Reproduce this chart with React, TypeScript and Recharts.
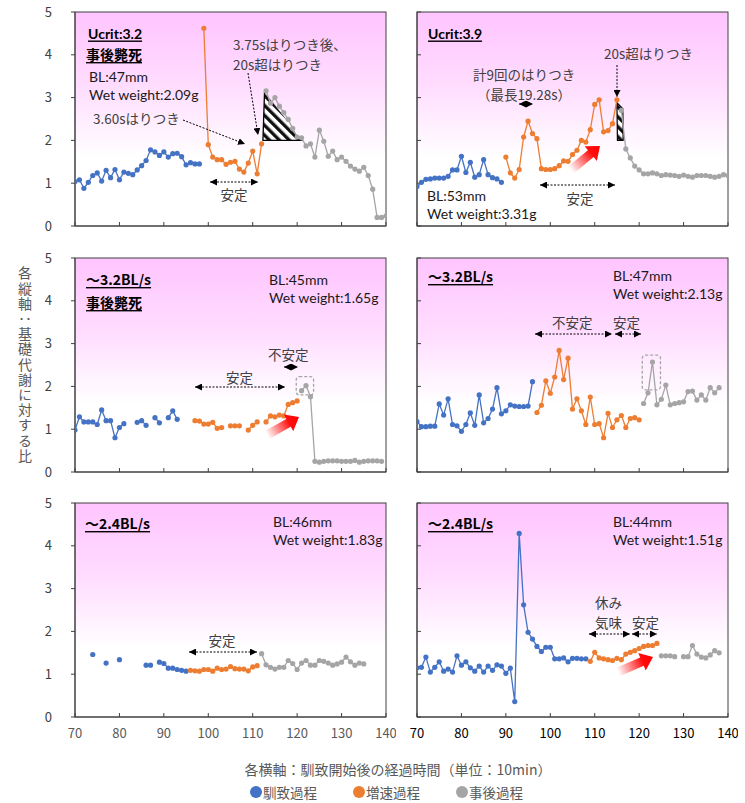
import React from 'react'
import { LineChart, Line, XAxis, YAxis, ReferenceArea } from 'recharts'

const BLUE = '#4472C4'
const ORANGE = '#ED7D31'
const GRAY = '#A5A5A5'
const FONT = '"Noto Sans CJK JP", "Noto Sans", sans-serif'
const LATIN = 'Lato, "Noto Sans CJK JP", sans-serif'

const xTicks = [70, 80, 90, 100, 110, 120, 130, 140]
const yTicks = [0, 1, 2, 3, 4, 5]

// 各パネルの値（開始時刻 + 10分ごとの値、null は欠測）
const ucrit32BlueFrom = 70
const ucrit32Blue = [1.04, 1.08, 0.88, 1.02, 1.18, 1.24, 1.05, 1.3, 1.13, 1.32, 1.08, 1.26, 1.23, 1.2, 1.31, 1.41, 1.53, 1.78, 1.73, 1.65, 1.73, 1.61, 1.69, 1.7, 1.62, 1.43, 1.48, 1.45, 1.45]
const ucrit32OrangeFrom = 99
const ucrit32Orange = [4.62, 1.9, 1.61, 1.55, 1.55, 1.44, 1.49, 1.51, 1.33, 1.26, 1.47, 1.75, 1.22, 1.92]
const ucrit32GrayFrom = 113
const ucrit32Gray = [3.16, 2.87, 3.0, 2.8, 2.65, 2.49, 2.28, 2.08, 2.06, 1.87, 1.92, 1.61, 2.24, 1.98, 1.63, 1.75, 1.55, 1.61, 1.51, 1.4, 1.33, 1.28, 1.37, 1.18, 0.86, 0.2, 0.2, 0.24]

const ucrit39BlueFrom = 70
const ucrit39Blue = [0.92, 1.02, 1.09, 1.1, 1.12, 1.12, 1.12, 1.16, 1.31, 1.31, 1.63, 1.25, 1.49, 1.14, 1.2, 1.55, 1.2, 1.13, 1.1, 1.02]
const ucrit39OrangeFrom = 90
const ucrit39Orange = [1.61, 1.24, 1.12, 1.32, 2.08, 2.45, 2.16, 2.04, 1.34, 1.32, 1.32, 1.34, 1.41, 1.52, 1.51, 1.67, 1.77, 2.0, 1.96, 2.25, 2.84, 2.95, 2.2, 2.23, 2.39, 2.95]
const ucrit39GrayFrom = 116
const ucrit39Gray = [2.7, 1.8, 1.59, 1.4, 1.31, 1.22, 1.22, 1.24, 1.22, 1.18, 1.2, 1.19, 1.18, 1.16, 1.19, 1.16, 1.14, 1.18, 1.18, 1.18, 1.16, 1.14, 1.16, 1.2, 1.18]

const bl32aBlueFrom = 70
const bl32aBlue = [0.98, 1.29, 1.17, 1.17, 1.17, 1.11, 1.45, 1.2, 1.2, 0.8, 1.04, 1.13, null, null, 1.16, 1.2, 1.09, null, 1.27, 1.15, null, 1.27, 1.43, 1.23]
const bl32aOrangeFrom = 97
const bl32aOrange = [1.2, 1.19, 1.12, 1.12, 1.16, 1.02, 1.04, null, 1.08, 1.08, 1.08, null, 0.98, 1.09, 1.17, null, 1.17, 1.31, 1.29, 1.33, 1.31, 1.58, 1.62, 1.66]
const bl32aGrayFrom = 121
const bl32aGray = [1.9, 2.02, 1.76, 0.25, 0.23, 0.25, 0.26, 0.26, 0.26, 0.25, 0.25, 0.25, 0.27, 0.23, 0.25, 0.26, 0.26, 0.26, 0.25]

const bl32bBlueFrom = 70
const bl32bBlue = [1.18, 1.06, 1.06, 1.07, 1.07, 1.59, 1.33, 1.71, 1.11, 1.08, 0.95, 1.11, 1.38, 1.09, 1.8, 1.15, 1.25, 1.47, 1.97, 1.36, 1.43, 1.57, 1.54, 1.53, 1.53, 1.54, 2.11]
const bl32bOrangeFrom = 97
const bl32bOrange = [1.39, 1.56, 2.13, 1.84, 2.22, 2.84, 2.16, 2.66, 1.47, 1.71, 1.43, 1.11, 1.75, 1.11, 1.13, 0.8, 1.37, 1.04, 1.22, 1.32, 1.04, 1.25, 1.27, 1.22]
const bl32bGrayFrom = 121
const bl32bGray = [1.6, 1.85, 2.57, 1.57, 1.7, 2.03, 1.57, 1.6, 1.62, 1.64, 1.88, 1.89, 1.68, 1.8, 1.68, 1.97, 1.85, 1.97]

const bl24aBlueFrom = 74
const bl24aBlue = [1.46, null, null, 1.26, null, null, 1.34, null, null, null, null, null, 1.21, 1.21, null, 1.28, 1.25, 1.14, 1.14, 1.11, 1.09, 1.07]
const bl24aOrangeFrom = 96
const bl24aOrange = [1.09, 1.08, 1.07, 1.11, 1.11, 1.07, 1.14, 1.11, 1.12, 1.18, 1.13, 1.12, 1.12, 1.08, 1.17, 1.2]
const bl24aGrayFrom = 112
const bl24aGray = [1.48, 1.22, 1.16, 1.12, 1.16, 1.16, 1.32, 1.25, 1.11, 1.26, 1.32, 1.21, 1.21, 1.32, 1.3, 1.26, 1.21, 1.24, 1.28, 1.4, 1.29, 1.21, 1.26, 1.24]

const bl24bBlueFrom = 70
const bl24bBlue = [1.15, 1.16, 1.4, 1.05, 1.16, 1.29, 1.07, 1.12, 1.05, 1.43, 1.21, 1.29, 1.15, 1.07, 1.19, 1.05, 1.19, 1.09, 1.22, 1.19, 1.02, 1.14, 0.36, 4.29, 2.62, 1.98, 1.82, 1.65, 1.53, 1.63, 1.63, 1.36, 1.36, 1.38, 1.29, 1.37, 1.37, 1.36, 1.36]
const bl24bOrangeFrom = 109
const bl24bOrange = [1.3, 1.51, 1.38, 1.36, 1.34, 1.32, 1.37, 1.34, 1.47, 1.51, 1.55, 1.6, 1.65, 1.67, 1.67, 1.72]
const bl24bGrayFrom = 125
const bl24bGray = [1.43, 1.43, 1.43, 1.41, null, 1.41, 1.41, 1.67, 1.47, 1.4, 1.38, 1.45, 1.55, 1.5]

const toPoints = (from: number, values: (number | null)[]) => values.map((v, i) => ({ t: from + i, v }))

// レイアウト
const PLOT_W = 311
const PLOT_H = 214
const AXIS_W = 45
const AXIS_H = 30
const PAD = 10
const COL_X = [75, 417]
const ROW_Y = [12, 258, 503]

const backgroundShape = (id: string) => (p: any) => (
  <g>
    <defs>
      <linearGradient id={`bg-${id}`} x1="0" y1="0" x2="0" y2="1">
        <stop offset="0%" stopColor="#FFC4FF" />
        <stop offset="35%" stopColor="#FFDDFF" />
        <stop offset="68%" stopColor="#FFFFFF" />
      </linearGradient>
    </defs>
    <rect x={p.x} y={p.y} width={p.width} height={p.height} fill={`url(#bg-${id})`} stroke="#404040" strokeWidth={1} />
  </g>
)

const hatchDefs = (id: string) => (
  <defs>
    <pattern id={id} patternUnits="userSpaceOnUse" width="7" height="7" patternTransform="rotate(-45)">
      <rect width="3.6" height="7" fill="#111" />
      <rect x="3.6" width="3.4" height="7" fill="#fff" />
    </pattern>
  </defs>
)

// 3.75sはりつき後の三角形
const hatchTriangle = (p: any) => {
  const { x, y, width: w, height: h } = p
  return (
    <g>
      {hatchDefs('hatch-a')}
      <polygon points={`${x},${y + h} ${x + w * 0.04},${y} ${x + w},${y + h}`} fill="url(#hatch-a)" />
      <polyline points={`${x + w * 0.04},${y} ${x},${y + h} ${x + w},${y + h}`} fill="none" stroke="#000" strokeWidth={1.3} />
    </g>
  )
}

// 20s超はりつきの細い帯
const hatchStrip = (p: any) => {
  const { x, y, width: w, height: h } = p
  const pts = `${x},${y} ${x + w * 0.08},${y + h} ${x + w},${y + h} ${x + w * 0.95},${y + h * 0.16}`
  return (
    <g>
      {hatchDefs('hatch-b')}
      <polygon points={pts} fill="url(#hatch-b)" stroke="#000" strokeWidth={1.2} />
    </g>
  )
}

const dashedBox = (p: any) => (
  <rect x={p.x} y={p.y} width={p.width} height={p.height} rx={3} fill="none" stroke={GRAY} strokeWidth={1.3} strokeDasharray="3 2" />
)

interface PanelProps {
  id: string
  col: number
  row: number
  blue: { t: number; v: number | null }[]
  orange: { t: number; v: number | null }[]
  gray: { t: number; v: number | null }[]
  children?: React.ReactNode
}

function Panel({ id, col, row, blue, orange, gray, children }: PanelProps) {
  const showY = col === 0
  const showX = row === 2
  const xColor = col === 0 ? '#595959' : '#000000'
  const series = [
    { key: 'blue', data: blue, color: BLUE },
    { key: 'orange', data: orange, color: ORANGE },
    { key: 'gray', data: gray, color: GRAY },
  ]
  return (
    <div style={{ position: 'absolute', left: COL_X[col] - AXIS_W, top: ROW_Y[row] - PAD }}>
      <LineChart
        width={AXIS_W + PLOT_W + PAD}
        height={PAD + PLOT_H + AXIS_H}
        margin={{ top: PAD, right: PAD, bottom: 0, left: 0 }}
      >
        <ReferenceArea x1={70} x2={140} y1={0} y2={5} ifOverflow="visible" shape={backgroundShape(id)} />
        {children}
        <XAxis
          type="number"
          dataKey="t"
          domain={[70, 140]}
          ticks={xTicks}
          interval={0}
          allowDataOverflow
          height={AXIS_H}
          tickSize={-4}
          tickMargin={16}
          axisLine={{ stroke: '#404040' }}
          tickLine={{ stroke: '#404040' }}
          tick={{ fill: xColor, fontSize: 13, fontFamily: FONT }}
          tickFormatter={(v: number) => (showX ? String(v) : '')}
        />
        <YAxis
          type="number"
          domain={[0, 5]}
          ticks={yTicks}
          interval={0}
          allowDataOverflow
          width={AXIS_W}
          tickSize={showY ? 4 : -4}
          tickMargin={19}
          axisLine={{ stroke: '#404040' }}
          tickLine={{ stroke: '#404040' }}
          tick={{ fill: '#404040', fontSize: 13, fontFamily: FONT }}
          tickFormatter={(v: number) => (showY ? String(v) : '')}
        />
        {series.map((s) => (
          <Line
            key={s.key}
            data={s.data}
            dataKey="v"
            type="linear"
            stroke={s.color}
            strokeWidth={1.3}
            dot={{ r: 2.6, fill: s.color, stroke: s.color, strokeWidth: 0 }}
            activeDot={false}
            connectNulls={false}
            isAnimationActive={false}
          />
        ))}
      </LineChart>
    </div>
  )
}

function RedArrow({ id, x1, y1, x2, y2 }: { id: string; x1: number; y1: number; x2: number; y2: number }) {
  const dx = x2 - x1
  const dy = y2 - y1
  const L = Math.hypot(dx, dy)
  const ux = dx / L
  const uy = dy / L
  const nx = -uy
  const ny = ux
  const bw = 4.5
  const hw = 9.5
  const hl = 12
  const p = (a: number, b: number) => `${x1 + ux * a + nx * b},${y1 + uy * a + ny * b}`
  const pts = [p(0, -bw), p(L - hl, -bw), p(L - hl, -hw), p(L, 0), p(L - hl, hw), p(L - hl, bw), p(0, bw)].join(' ')
  return (
    <g>
      <defs>
        <linearGradient id={id} gradientUnits="userSpaceOnUse" x1={x1} y1={y1} x2={x2} y2={y2}>
          <stop offset="0" stopColor="#FF0000" stopOpacity="0" />
          <stop offset="0.7" stopColor="#FF0000" stopOpacity="0.95" />
          <stop offset="1" stopColor="#FF0000" stopOpacity="1" />
        </linearGradient>
      </defs>
      <polygon points={pts} fill={`url(#${id})`} />
    </g>
  )
}

function DashArrow({ x1, y1, x2, y2, both = true }: { x1: number; y1: number; x2: number; y2: number; both?: boolean }) {
  return (
    <line
      x1={x1}
      y1={y1}
      x2={x2}
      y2={y2}
      stroke="#000"
      strokeWidth={1}
      strokeDasharray="2 1.5"
      markerEnd="url(#ah)"
      markerStart={both ? 'url(#ah)' : undefined}
    />
  )
}

function T({ x, y, children, bold = false, under = false, color = '#404040', anchor = 'start', size = 13.5, font = FONT }: any) {
  return (
    <text
      x={x}
      y={y}
      fontSize={size}
      fontFamily={font}
      fontWeight={bold ? 700 : 400}
      fill={color}
      textAnchor={anchor}
      dominantBaseline="central"
      textDecoration={under ? 'underline' : undefined}
    >
      {children}
    </text>
  )
}

// 個体情報（BL・湿重量）
function Info({ x, y, bl, ww }: { x: number; y: number; bl: string; ww: string }) {
  return (
    <>
      <T x={x} y={y} color="#1a1a1a" size={14} font={LATIN}>{bl}</T>
      <T x={x} y={y + 18} color="#1a1a1a" size={14} font={LATIN}>{ww}</T>
    </>
  )
}

function Annotations() {
  return (
    <svg width={745} height={803} style={{ position: 'absolute', left: 0, top: 0, pointerEvents: 'none' }}>
      <defs>
        <marker id="ah" viewBox="0 0 10 10" refX="10" refY="5" markerWidth="7" markerHeight="7" markerUnits="userSpaceOnUse" orient="auto-start-reverse">
          <path d="M0,0 L10,5 L0,10 z" fill="#000" />
        </marker>
      </defs>

      {/* Ucrit:3.2 */}
      <T x={88} y={33} bold under color="#000" size={14} font={LATIN}>Ucrit:3.2</T>
      <T x={86} y={54} bold under color="#000" size={14}>事後斃死</T>
      <Info x={89} y={76} bl="BL:47mm" ww="Wet weight:2.09g" />
      <T x={93} y={118}>3.60sはりつき</T>
      <DashArrow x1={183} y1={120} x2={245} y2={144} both={false} />
      <T x={233} y={44}>3.75sはりつき後、</T>
      <T x={233} y={64}>20s超はりつき</T>
      <DashArrow x1={248} y1={73} x2={258} y2={135} both={false} />
      <DashArrow x1={210} y1={182} x2={258} y2={182} />
      <T x={234} y={194} anchor="middle">安定</T>

      {/* Ucrit:3.9 */}
      <T x={428} y={33} bold under color="#000" size={14} font={LATIN}>Ucrit:3.9</T>
      <T x={604} y={53}>20s超はりつき</T>
      <DashArrow x1={617} y1={65} x2={617} y2={97} both={false} />
      <T x={473} y={74}>計9回のはりつき</T>
      <T x={477} y={94}>（最長19.28s）</T>
      <DashArrow x1={519} y1={104} x2={533} y2={104} />
      <RedArrow id="ra1" x1={571} y1={170} x2={600} y2={146} />
      <DashArrow x1={540} y1={185} x2={615} y2={185} />
      <T x={580} y={198} anchor="middle">安定</T>
      <Info x={427} y={195} bl="BL:53mm" ww="Wet weight:3.31g" />

      {/* ～3.2BL/s 事後斃死 */}
      <T x={86} y={279} bold under color="#000" size={14}>～3.2BL/s</T>
      <T x={86} y={302} bold under color="#000" size={14}>事後斃死</T>
      <Info x={269} y={279} bl="BL:45mm" ww="Wet weight:1.65g" />
      <T x={268} y={354}>不安定</T>
      <DashArrow x1={284} y1={367} x2={298} y2={367} />
      <T x={226} y={377}>安定</T>
      <DashArrow x1={195} y1={387} x2={285} y2={387} />
      <RedArrow id="ra2" x1={267} y1={435} x2={299} y2={417} />

      {/* ～3.2BL/s */}
      <T x={428} y={276} bold under color="#000" size={14}>～3.2BL/s</T>
      <Info x={613} y={275} bl="BL:47mm" ww="Wet weight:2.13g" />
      <T x={552} y={322}>不安定</T>
      <DashArrow x1={535} y1={334} x2={612} y2={334} />
      <T x={613} y={322}>安定</T>
      <DashArrow x1={615} y1={334} x2={641} y2={334} />

      {/* ～2.4BL/s */}
      <T x={85} y={523} bold under color="#000" size={14}>～2.4BL/s</T>
      <Info x={273} y={521} bl="BL:46mm" ww="Wet weight:1.83g" />
      <T x={222} y={640} anchor="middle">安定</T>
      <DashArrow x1={189} y1={652} x2={257} y2={652} />

      {/* ～2.4BL/s */}
      <T x={428} y={523} bold under color="#000" size={14}>～2.4BL/s</T>
      <Info x={613} y={521} bl="BL:44mm" ww="Wet weight:1.51g" />
      <T x={595} y={602}>休み</T>
      <T x={595} y={622}>気味</T>
      <T x={632} y={622}>安定</T>
      <DashArrow x1={589} y1={634} x2={630} y2={634} />
      <DashArrow x1={632} y1={634} x2={657} y2={634} />
      <RedArrow id="ra3" x1={618} y1={672} x2={653} y2={657} />

      {/* 軸タイトル・凡例 */}
      <T x={398} y={769} anchor="middle" color="#595959" size={14}>各横軸：馴致開始後の経過時間（単位：10min）</T>
      <circle cx={256} cy={792} r={6} fill={BLUE} />
      <T x={263} y={792} color="#595959">馴致過程</T>
      <circle cx={359} cy={792} r={6} fill={ORANGE} />
      <T x={366} y={792} color="#595959">増速過程</T>
      <circle cx={462} cy={792} r={6} fill={GRAY} />
      <T x={469} y={792} color="#595959">事後過程</T>
    </svg>
  )
}

export default function App() {
  return (
    <div style={{ position: 'absolute', left: 0, top: 0, width: 745, height: 803, background: '#fff', fontFamily: FONT }}>
      <Panel id="p1" col={0} row={0} blue={toPoints(ucrit32BlueFrom, ucrit32Blue)} orange={toPoints(ucrit32OrangeFrom, ucrit32Orange)} gray={toPoints(ucrit32GrayFrom, ucrit32Gray)}>
        <ReferenceArea x1={112.3} x2={121.3} y1={2.0} y2={3.13} ifOverflow="visible" shape={hatchTriangle} />
      </Panel>
      <Panel id="p2" col={1} row={0} blue={toPoints(ucrit39BlueFrom, ucrit39Blue)} orange={toPoints(ucrit39OrangeFrom, ucrit39Orange)} gray={toPoints(ucrit39GrayFrom, ucrit39Gray)}>
        <ReferenceArea x1={115.0} x2={116.4} y1={2.0} y2={2.88} ifOverflow="visible" shape={hatchStrip} />
      </Panel>
      <Panel id="p3" col={0} row={1} blue={toPoints(bl32aBlueFrom, bl32aBlue)} orange={toPoints(bl32aOrangeFrom, bl32aOrange)} gray={toPoints(bl32aGrayFrom, bl32aGray)}>
        <ReferenceArea x1={119.8} x2={123.7} y1={1.8} y2={2.23} ifOverflow="visible" shape={dashedBox} />
      </Panel>
      <Panel id="p4" col={1} row={1} blue={toPoints(bl32bBlueFrom, bl32bBlue)} orange={toPoints(bl32bOrangeFrom, bl32bOrange)} gray={toPoints(bl32bGrayFrom, bl32bGray)}>
        <ReferenceArea x1={120.7} x2={124.8} y1={1.92} y2={2.73} ifOverflow="visible" shape={dashedBox} />
      </Panel>
      <Panel id="p5" col={0} row={2} blue={toPoints(bl24aBlueFrom, bl24aBlue)} orange={toPoints(bl24aOrangeFrom, bl24aOrange)} gray={toPoints(bl24aGrayFrom, bl24aGray)} />
      <Panel id="p6" col={1} row={2} blue={toPoints(bl24bBlueFrom, bl24bBlue)} orange={toPoints(bl24bOrangeFrom, bl24bOrange)} gray={toPoints(bl24bGrayFrom, bl24bGray)} />
      <div
        style={{
          position: 'absolute',
          left: 17,
          top: 266,
          fontSize: 14,
          lineHeight: '16px',
          letterSpacing: 1.2,
          writingMode: 'vertical-rl',
          color: '#595959',
          fontFamily: FONT,
        }}
      >
        各縦軸：基礎代謝に対する比
      </div>
      <Annotations />
    </div>
  )
}
